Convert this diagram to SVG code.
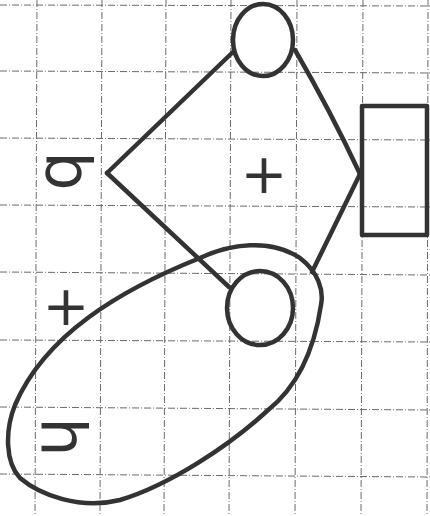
<svg xmlns="http://www.w3.org/2000/svg" width="430" height="516" viewBox="0 0 430 516">
<style>
.grid line{stroke:#6a6a6a;stroke-width:1;stroke-dasharray:7 2 1 2}
.ink{fill:none;stroke:#333;stroke-width:4.5;stroke-linecap:round;stroke-linejoin:round}
.lbl{font-family:"DejaVu Sans",sans-serif;fill:#333;text-anchor:middle;dominant-baseline:central}
</style>
<rect width="430" height="516" fill="#fff"/>
<g class="grid">
<line x1="37" y1="0" x2="35" y2="516"/>
<line x1="102" y1="0" x2="100" y2="516"/>
<line x1="166" y1="0" x2="164" y2="516"/>
<line x1="231" y1="0" x2="229" y2="516"/>
<line x1="297" y1="0" x2="295" y2="516"/>
<line x1="363" y1="0" x2="361" y2="516"/>
<line x1="428" y1="0" x2="427" y2="516"/>
<line x1="0" y1="5" x2="430" y2="6"/>
<line x1="0" y1="71" x2="430" y2="73"/>
<line x1="0" y1="138" x2="430" y2="140"/>
<line x1="0" y1="205" x2="430" y2="207"/>
<line x1="0" y1="272" x2="430" y2="275"/>
<line x1="0" y1="340" x2="430" y2="342"/>
<line x1="0" y1="407" x2="430" y2="410"/>
<line x1="0" y1="474" x2="430" y2="477"/>
</g>
<g id="connectors" class="ink">
<path d="M233 52 L107 173"/>
<path d="M107 173 L229 287"/>
<path d="M295 50 Q330 110 360 174"/>
<path d="M360 174 L312 272"/>
</g>
<g id="node-top-circle"><ellipse class="ink" cx="263" cy="40" rx="30" ry="36"/></g>
<g id="node-bottom-circle"><ellipse class="ink" cx="260" cy="308" rx="33" ry="37"/></g>
<g id="node-rect"><rect class="ink" x="362" y="106" width="65" height="129"/></g>
<g id="node-loop"><path class="ink" d="M200 258 C230 244 270 238 300 258 C318 272 324 290 321 305 C315 345 300 385 267 411 C230 445 170 485 120 500 C80 510 40 495 20 478 C5 462 5 430 15 405 C45 335 120 290 200 258 Z"/></g>
<g id="label-b"><text class="lbl" font-size="62" transform="translate(68 171) rotate(90)">b</text></g>
<g id="label-plus1"><text class="lbl" font-size="56" x="264" y="173">+</text></g>
<g id="label-plus2"><text class="lbl" font-size="56" x="66" y="305">+</text></g>
<g id="label-h"><text class="lbl" font-size="62" transform="translate(63 437) rotate(90)">h</text></g>
</svg>
